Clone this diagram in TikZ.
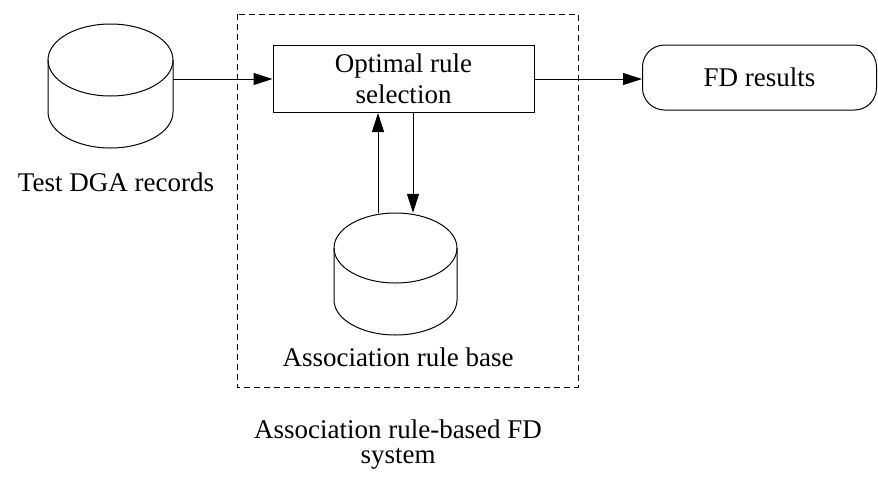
\documentclass[tikz,border=0pt]{standalone}
\usepackage{fontspec}
\setmainfont{Liberation Serif}
\usetikzlibrary{arrows.meta}

% cylinder outline: centre x, top-ellipse y, bottom-ellipse y, radii (all in pt, y downwards)
\newcommand{\dbshape}[5]{%
  \draw[line] (#1,-#2) ellipse[x radius=#4pt, y radius=#5pt];
  \draw[line] ({#1-#4},-#2) -- ({#1-#4},-#3)
    arc[start angle=180, end angle=360, x radius=#4pt, y radius=#5pt]
    -- ({#1+#4},-#2);
}

\begin{document}
\begin{tikzpicture}[x=1pt, y=1pt,
  line/.style={line width=1pt, black},
  arr/.style={line, -{Triangle[length=19pt, width=12pt]}},
  txt/.style={font=\fontsize{27}{31}\selectfont, align=center, inner sep=0pt},
  procbox/.style={line, draw, rectangle, minimum width=261pt, minimum height=67pt,
    font=\fontsize{27}{31}\selectfont, align=center, inner sep=0pt},
  resultbox/.style={line, draw, rounded corners=22pt, minimum width=234pt,
    minimum height=65pt, font=\fontsize{27}{31}\selectfont, inner sep=0pt},
  hull/.style={draw=none, minimum width=#1, inner sep=0pt},
]
\useasboundingbox (0,0) rectangle (878,-477);

% system boundary
\draw[line, dashed, dash pattern=on 6pt off 4pt] (237,-14) rectangle (578,-387);

% databases
\dbshape{110.5}{60}{112}{62.5}{36}
\node[hull=125pt, minimum height=124pt] (db1) at (110.5,-86) {};
\node[txt] (db1lbl) at (116,-182) {Test DGA records};

\dbshape{395.5}{248}{300}{61.5}{35}
\node[hull=123pt, minimum height=122pt] (db2) at (395.5,-274) {};
\node[txt] (db2lbl) at (398,-357) {Association rule base};

% processing and output
\node[procbox] (opt) at (403.5,-79) {Optimal rule\\selection};
\node[resultbox] (fd) at (759.5,-77.5) {FD results};

\node[font=\fontsize{27}{25}\selectfont, align=center, inner sep=0pt] (cap) at (398,-445)
  {Association rule-based FD\\system};

% connectors
\draw[arr] (opt.west -| db1.east) -- (opt.west);
\draw[arr] (opt.east) -- (opt.east -| fd.west);
\draw[arr] ([xshift=-25.5pt]opt.south |- db2.north) -- ([xshift=-25.5pt]opt.south);
\draw[arr] ([xshift=9.5pt]opt.south) -- ([xshift=9.5pt]opt.south |- db2.north);
\end{tikzpicture}
\end{document}
